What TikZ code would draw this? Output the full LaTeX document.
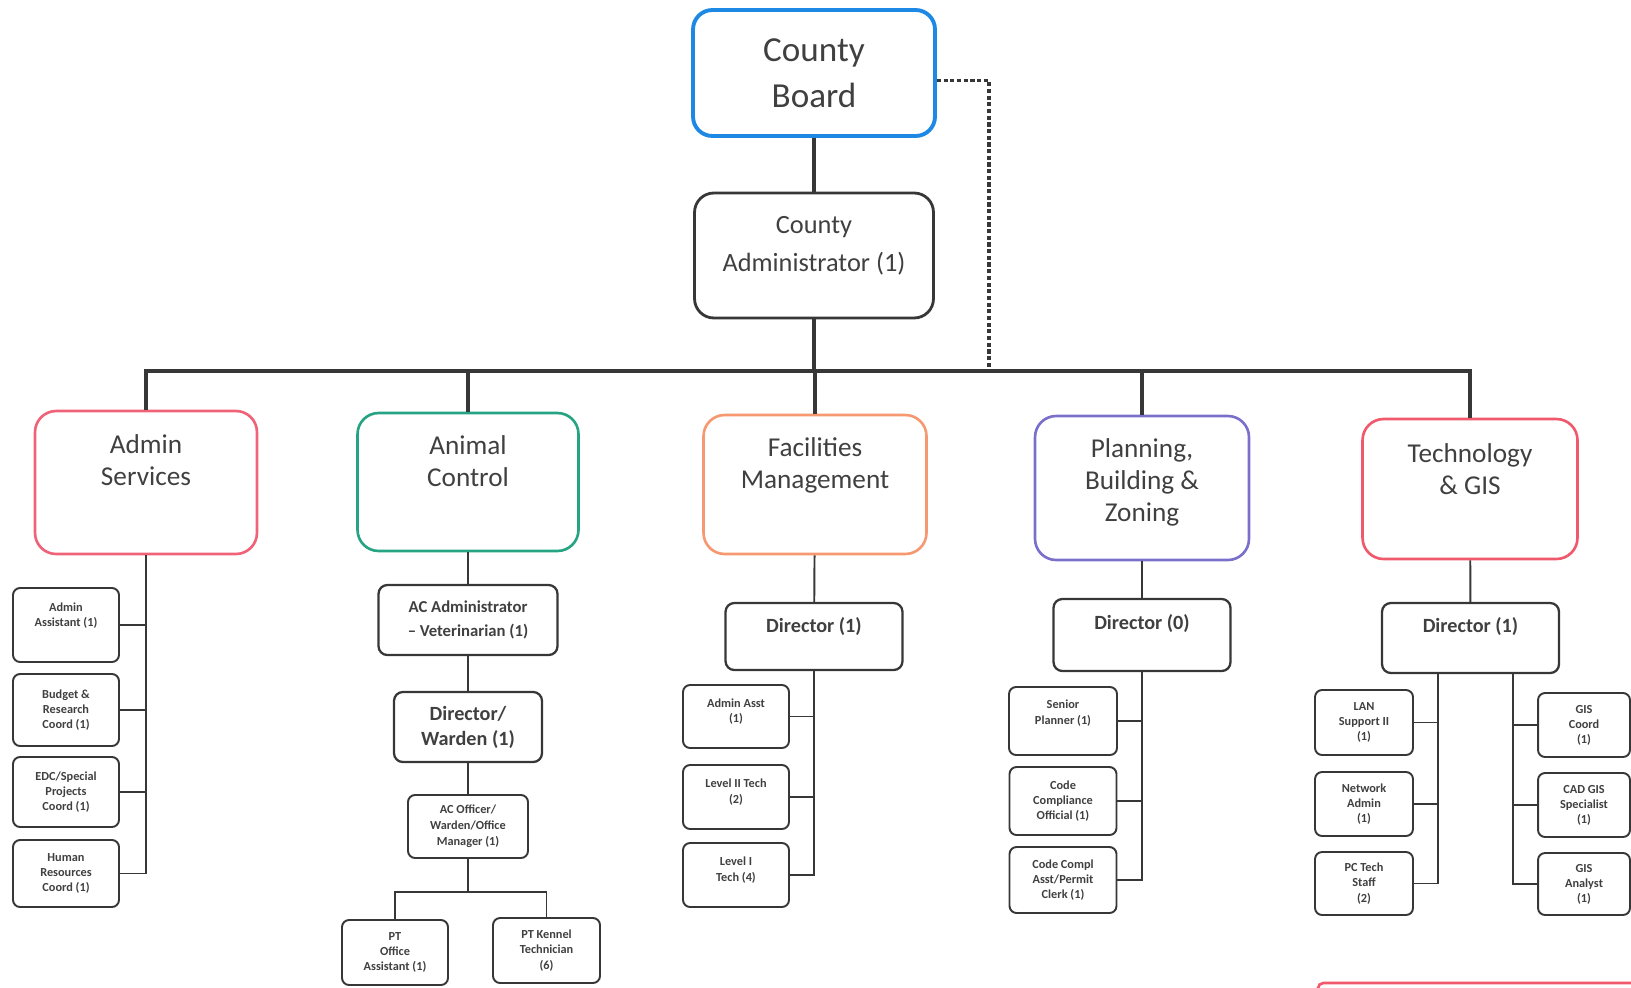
\documentclass[tikz,border=0pt]{standalone}
\usepackage{fontspec}
\setmainfont{Carlito}

\definecolor{boardblue}{RGB}{30,136,229}
\definecolor{deptpink}{RGB}{240,98,120}
\definecolor{deptgreen}{RGB}{38,163,130}
\definecolor{deptorange}{RGB}{246,152,112}
\definecolor{deptpurple}{RGB}{122,112,204}
\definecolor{techpink}{RGB}{240,88,108}
\definecolor{linegray}{RGB}{55,55,55}
\definecolor{txtgray}{RGB}{64,64,64}

\tikzset{
  topbox/.style={draw=#1, line width=2.2pt, rounded corners=11pt, inner sep=0pt, align=center, text=txtgray},
  deptbox/.style={draw=#1, line width=1.5pt, rounded corners=12pt, inner sep=0pt},
  depttext/.style={align=center, text=txtgray, font=\fontsize{15.5}{18.2}\selectfont},
  dirtext/.style={align=center, text=txtgray, font=\bfseries\fontsize{11.5}{14.2}\selectfont},
  dirbox/.style={draw=linegray, line width=1.3pt, rounded corners=5pt, inner sep=0pt, dirtext},
  stafftext/.style={align=center, text=txtgray, font=\bfseries\fontsize{7}{8.6}\selectfont},
  staffbox/.style={draw=linegray, line width=1.1pt, rounded corners=4pt, inner sep=0pt, stafftext},
  trunk/.style={draw=linegray, line width=2.3pt},
  link/.style={draw=linegray, line width=1.1pt},
  dotlink/.style={draw=linegray, line width=1.8pt, dash pattern=on 2.4pt off 1.4pt},
}

\begin{document}
\begin{tikzpicture}[x=0.02cm, y=-0.02cm]
    \useasboundingbox (0,0) rectangle (1631,987);

    % top of the chart
    \node[topbox=boardblue, minimum width=4.84cm, minimum height=2.52cm, font=\fontsize{20}{26}\selectfont] (board) at (814,73) {County\\Board};
    \node[topbox=linegray, line width=1.6pt, minimum width=4.78cm, minimum height=2.5cm,
          label={[depttext, font=\fontsize{15}{21.6}\selectfont, yshift=5.4pt]center:County\\Administrator (1)}] (cadmin) at (814,255.5) {};
    \coordinate (bus) at (814,371);
    \coordinate (dashend) at (989,371);
    \draw[trunk] (board) -- (cadmin);
    \draw[trunk] (cadmin) -- (bus);
    \draw[dotlink] ([yshift=-4.5pt]board.east) -| (dashend);

    % departments
    \node[deptbox=deptpink, minimum width=4.44cm, minimum height=2.86cm,
          label={[depttext, yshift=13pt]center:Admin\\Services}] (adminsvc) at (146,482.5) {};
    \node[deptbox=deptgreen, minimum width=4.42cm, minimum height=2.76cm,
          label={[depttext, yshift=11.7pt]center:Animal\\Control}] (animal) at (468,482) {};
    \node[deptbox=deptorange, minimum width=4.46cm, minimum height=2.78cm,
          label={[depttext, yshift=11pt]center:Facilities\\Management}] (facil) at (815,484.5) {};
    \node[deptbox=deptpurple, minimum width=4.28cm, minimum height=2.88cm,
          label={[depttext, yshift=3.4pt]center:Planning,\\Building \&\\Zoning}] (plan) at (1142,488) {};
    \node[deptbox=techpink, minimum width=4.3cm, minimum height=2.8cm,
          label={[depttext, yshift=11.4pt]center:Technology\\\& GIS}] (tech) at (1470,489) {};

    \draw[trunk] (adminsvc.north) -- (adminsvc.north |- bus) -- (tech.north |- bus) -- (tech.north);
    \foreach \d in {animal,facil,plan}
        \draw[trunk] (\d.north) -- (\d.north |- bus);

    % admin services
    \node[staffbox, minimum width=2.12cm, minimum height=1.48cm,
          label={[stafftext, yshift=5.4pt]center:Admin\\Assistant (1)}] (as1) at (66,625) {};
    \node[staffbox, minimum width=2.12cm, minimum height=1.44cm] (as2) at (66,710) {Budget \&\\Research\\Coord (1)};
    \node[staffbox, minimum width=2.12cm, minimum height=1.4cm] (as3) at (66,792) {EDC/Special\\Projects\\Coord (1)};
    \node[staffbox, minimum width=2.12cm, minimum height=1.34cm] (as4) at (66,873.5) {Human\\Resources\\Coord (1)};
    \draw[link] (adminsvc) |- (as4);
    \foreach \s in {as1,as2,as3}
        \draw[link] (\s) -- (\s -| adminsvc.south);

    % animal control
    \node[dirbox, minimum width=3.58cm, minimum height=1.4cm, font=\bfseries\fontsize{9.5}{13.6}\selectfont] (acadm) at (468,620) {AC Administrator\\-- Veterinarian (1)};
    \node[dirbox, minimum width=2.96cm, minimum height=1.4cm] (acdir) at (468,727) {Director/\\Warden (1)};
    \node[staffbox, minimum width=2.4cm, minimum height=1.26cm, font=\bfseries\fontsize{7}{9}\selectfont] (acoff) at (468,826.5) {AC Officer/\\Warden/Office\\Manager (1)};
    \coordinate (acfork) at (468,892);
    \node[staffbox, minimum width=2.12cm, minimum height=1.3cm] (ptoff) at (395,952.5) {PT\\Office\\Assistant (1)};
    \node[staffbox, minimum width=2.14cm, minimum height=1.3cm] (ptken) at (546.5,950.5) {PT Kennel\\Technician\\(6)};
    \draw[link] (animal) -- (acadm);
    \draw[link] (acadm) -- (acdir);
    \draw[link] (acdir) -- (acoff);
    \draw[link] (acoff) -- (acfork) -| (ptoff);
    \draw[link] (acfork) -| (ptken);

    % facilities
    \node[dirbox, minimum width=3.54cm, minimum height=1.34cm,
          label={[dirtext, yshift=5.4pt]center:Director (1)}] (fmdir) at (814,636.5) {};
    \node[staffbox, minimum width=2.12cm, minimum height=1.26cm,
          label={[stafftext, yshift=2.8pt]center:Admin Asst\\(1)}] (fm1) at (736,716.5) {};
    \node[staffbox, minimum width=2.12cm, minimum height=1.28cm,
          label={[stafftext, yshift=2.8pt]center:Level II Tech\\(2)}] (fm2) at (736,797) {};
    \node[staffbox, minimum width=2.12cm, minimum height=1.28cm,
          label={[stafftext, yshift=2.8pt]center:Level I\\Tech (4)}] (fm3) at (736,875) {};
    \draw[link] (facil) -- (fmdir);
    \draw[link] (fmdir) |- (fm3);
    \foreach \s in {fm1,fm2}
        \draw[link] (\s) -- (\s -| fmdir.south);

    % planning
    \node[dirbox, minimum width=3.54cm, minimum height=1.44cm,
          label={[dirtext, yshift=6.8pt]center:Director (0)}] (pbdir) at (1142,635) {};
    \node[staffbox, minimum width=2.16cm, minimum height=1.36cm,
          label={[stafftext, yshift=4.5pt]center:Senior\\Planner (1)}] (pb1) at (1063,721) {};
    \node[staffbox, minimum width=2.14cm, minimum height=1.36cm] (pb2) at (1063,801) {Code\\Compliance\\Official (1)};
    \node[staffbox, minimum width=2.14cm, minimum height=1.32cm] (pb3) at (1063,880) {Code Compl\\Asst/Permit\\Clerk (1)};
    \draw[link] (plan) -- (pbdir);
    \draw[link] (pbdir) |- (pb3);
    \foreach \s in {pb1,pb2}
        \draw[link] (\s) -- (\s -| pbdir.south);

    % technology
    \node[dirbox, minimum width=3.54cm, minimum height=1.4cm,
          label={[dirtext, yshift=6.3pt]center:Director (1)}] (tgdir) at (1470.5,638) {};
    \coordinate (tgl) at ([xshift=-18.5pt]tgdir.south);
    \coordinate (tgr) at ([xshift=24.2pt]tgdir.south);
    \node[staffbox, minimum width=1.96cm, minimum height=1.3cm] (tg1) at (1364,722.5) {LAN\\Support II\\(1)};
    \node[staffbox, minimum width=1.96cm, minimum height=1.28cm] (tg2) at (1364,804) {Network\\Admin\\(1)};
    \node[staffbox, minimum width=1.96cm, minimum height=1.26cm] (tg3) at (1364,883.5) {PC Tech\\Staff\\(2)};
    \node[staffbox, minimum width=1.84cm, minimum height=1.28cm] (tg4) at (1584,725) {GIS\\Coord\\(1)};
    \node[staffbox, minimum width=1.84cm, minimum height=1.28cm] (tg5) at (1584,805) {CAD GIS\\Specialist\\(1)};
    \node[staffbox, minimum width=1.84cm, minimum height=1.24cm] (tg6) at (1584,884) {GIS\\Analyst\\(1)};
    \draw[link] (tech) -- (tgdir);
    \draw[link] (tgl) |- (tg3);
    \draw[link] (tgr) |- (tg6);
    \foreach \s in {tg1,tg2}
        \draw[link] (\s) -- (\s -| tgl);
    \foreach \s in {tg4,tg5}
        \draw[link] (\s) -- (\s -| tgr);

    % edge of a box cut off at the bottom
    \draw[techpink, line width=1.5pt, rounded corners=3pt] (1318,987) -- (1318,983) -- (1631,983);
\end{tikzpicture}
\end{document}
